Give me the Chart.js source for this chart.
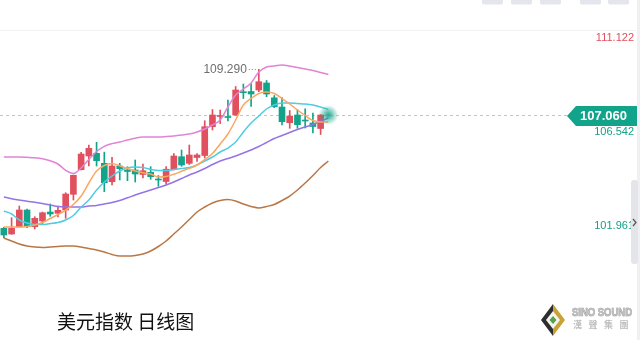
<!DOCTYPE html>
<html>
<head>
<meta charset="utf-8">
<script src="https://cdn.jsdelivr.net/npm/chart.js@4.4.1/dist/chart.umd.min.js"></script>
<style>
  html, body { margin: 0; padding: 0; background: #ffffff; overflow: hidden; }
  #wrap { position: relative; width: 640px; height: 340px; }
</style>
</head>
<body>
<div id="wrap"><canvas id="chart" width="640" height="340"></canvas></div>
<script>
// ---- daily candles (USD index) ----
const openPrices = [101.533, 101.255, 101.611, 102.426, 101.611, 101.889, 102.328, 102.265, 102.426, 103.192,
  104.392, 105.060, 105.192, 104.704, 103.806, 104.572, 104.377, 104.377, 104.158, 104.265,
  103.923, 103.816, 104.401, 105.026, 104.704, 104.987, 105.084, 106.489, 106.987, 106.987,
  107.060, 108.182, 108.206, 108.280, 108.621, 107.899, 107.450, 106.684, 107.060, 106.816,
  106.670, 106.401];
const highPrices = [101.582, 102.050, 102.621, 102.475, 102.099, 102.328, 102.719, 102.621, 103.270, 104.133,
  105.241, 105.597, 105.728, 105.250, 105.000, 104.704, 104.538, 104.865, 104.670, 104.538,
  104.109, 104.548, 105.182, 105.353, 105.597, 105.182, 106.782, 107.328, 107.304, 107.792,
  108.450, 108.572, 108.597, 109.290, 108.743, 108.011, 107.914, 107.280, 107.319, 107.362,
  107.158, 107.080];
const lowPrices = [101.075, 101.240, 101.590, 101.562, 101.499, 101.728, 102.119, 102.084, 102.021, 102.914,
  104.377, 104.572, 104.572, 103.319, 103.645, 103.889, 103.855, 103.792, 103.987, 103.923,
  103.582, 103.684, 104.377, 104.558, 104.645, 104.792, 104.962, 106.328, 106.645, 106.767,
  107.040, 107.865, 107.475, 108.197, 107.953, 107.416, 106.572, 106.411, 106.411, 106.426,
  106.182, 106.109];
const closePrices = [101.206, 101.533, 102.426, 101.611, 102.021, 102.294, 102.231, 102.411, 103.206, 104.119,
  105.158, 105.436, 104.831, 103.758, 104.572, 104.440, 104.304, 104.182, 104.343, 104.050,
  103.889, 104.416, 105.060, 104.621, 105.109, 105.109, 106.489, 107.060, 107.036, 106.938,
  108.280, 108.148, 108.084, 108.684, 108.084, 107.465, 106.733, 107.011, 106.587, 106.767,
  106.499, 107.060];

// ---- moving averages and Bollinger bands ----
const ma5 = [101.597, 101.597, 101.597, 101.626, 101.694, 101.816, 102.011, 102.207, 102.426, 102.694,
  103.109, 103.743, 104.329, 104.597, 104.699, 104.577, 104.450, 104.329, 104.246, 104.182,
  104.036, 104.060, 104.172, 104.314, 104.455, 104.621, 104.880, 105.182, 105.646, 106.133,
  106.816, 107.548, 107.865, 108.109, 108.182, 108.109, 107.865, 107.597, 107.304, 107.036,
  106.792, 106.719, 106.719];
const ma10 = [102.377, 102.231, 101.938, 101.792, 101.719, 101.719, 101.768, 101.816, 101.938, 102.158,
  102.572, 102.914, 103.402, 103.792, 104.085, 104.329, 104.475, 104.524, 104.499, 104.402,
  104.353, 104.353, 104.402, 104.450, 104.499, 104.621, 104.816, 105.011, 105.255, 105.450,
  105.743, 106.231, 106.670, 107.011, 107.353, 107.548, 107.646, 107.646, 107.621, 107.597,
  107.548, 107.450, 107.329];
const ma20 = [103.060, 102.977, 102.914, 102.855, 102.807, 102.748, 102.670, 102.592, 102.572, 102.572,
  102.572, 102.621, 102.646, 102.719, 102.792, 102.890, 103.021, 103.158, 103.280, 103.402,
  103.524, 103.646, 103.792, 103.963, 104.133, 104.280, 104.450, 104.646, 104.816, 104.938,
  105.060, 105.207, 105.353, 105.524, 105.719, 105.914, 106.060, 106.207, 106.353, 106.475,
  106.597, 106.743, 106.914];
const bollUpper = [105.011, 105.011, 105.011, 104.997, 104.977, 104.929, 104.831, 104.670, 104.362, 104.207,
  104.475, 104.889, 105.280, 105.533, 105.665, 105.743, 105.841, 105.929, 105.987, 105.987,
  105.987, 106.007, 106.036, 106.085, 106.133, 106.231, 106.377, 106.572, 106.816, 107.450,
  108.036, 108.329, 108.621, 109.157, 109.402, 109.450, 109.499, 109.450, 109.377, 109.304,
  109.231, 109.133, 109.036];
const bollLower = [101.060, 100.914, 100.768, 100.670, 100.621, 100.597, 100.621, 100.646, 100.670, 100.670,
  100.621, 100.548, 100.475, 100.377, 100.255, 100.182, 100.182, 100.207, 100.280, 100.426,
  100.646, 100.914, 101.255, 101.597, 101.963, 102.329, 102.572, 102.768, 102.890, 102.938,
  102.865, 102.719, 102.597, 102.524, 102.597, 102.694, 102.890, 103.109, 103.402, 103.743,
  104.109, 104.499, 104.816];

// ---- price marks on the right ----
const lastPrice = 107.060;
const peakIndex = 33;
const peakText = '109.290';
const sideMarks = [
  { text: '111.122', value: 111.122, color: '#e0505e' },
  { text: '106.542', value: 106.542, color: '#139f86' },
  { text: '101.961', value: 101.961, color: '#139f86' }
];
const titleText = '美元指数 日线图';

// visible window holds 73 daily slots; the rest are empty to the right
const slotCount = 73;
const slotLabels = Array.from({ length: slotCount }, (_, i) => 'D' + (i + 1));

const UP = '#e0505e';
const DOWN = '#12a48a';
const candleColors = closePrices.map((c, i) => (c >= openPrices[i] ? UP : DOWN));

function lineSet(label, data, color) {
  return {
    type: 'line', label, data,
    borderColor: color, borderWidth: 1.5,
    pointRadius: 0, fill: false,
    cubicInterpolationMode: 'monotone'
  };
}

// text squeezed horizontally to a fixed width
function fitText(ctx, text, x, y, width) {
  const w = ctx.measureText(text).width;
  ctx.save();
  ctx.translate(x, y);
  ctx.scale(Math.min(1, width / w), 1);
  ctx.strokeText(text, 0, 0);
  ctx.fillText(text, 0, 0);
  ctx.restore();
}

const overlayPlugin = {
  id: 'overlay',
  beforeDatasetsDraw(chart) {
    const ctx = chart.ctx;
    const y = chart.scales.y.getPixelForValue(lastPrice);
    ctx.save();
    // thin separator under the toolbar
    ctx.strokeStyle = '#f2f2f4';
    ctx.lineWidth = 1;
    ctx.beginPath(); ctx.moveTo(0, 30.5); ctx.lineTo(636, 30.5); ctx.stroke();
    // last price dashed line
    ctx.strokeStyle = '#9fd6cc';
    ctx.setLineDash([3, 3]);
    ctx.beginPath(); ctx.moveTo(0, Math.round(y) + 0.5); ctx.lineTo(568, Math.round(y) + 0.5); ctx.stroke();
    ctx.restore();
  },
  afterDraw(chart) {
    const ctx = chart.ctx;
    const xs = chart.scales.x, ys = chart.scales.y;
    ctx.save();

    // glowing marker at the end of the lines
    const gx = xs.getPixelForValue(ma5.length - 1);
    const gy = ys.getPixelForValue(lastPrice);
    const g = ctx.createRadialGradient(gx, gy, 0, gx, gy, 10);
    g.addColorStop(0, 'rgba(18,164,138,0.95)');
    g.addColorStop(0.35, 'rgba(18,164,138,0.6)');
    g.addColorStop(1, 'rgba(18,164,138,0)');
    ctx.fillStyle = g;
    ctx.beginPath(); ctx.arc(gx, gy, 10, 0, Math.PI * 2); ctx.fill();

    // high marker with dotted leader
    const px = xs.getPixelForValue(peakIndex);
    const py = ys.getPixelForValue(highPrices[peakIndex]);
    ctx.fillStyle = '#6f6f6f';
    ctx.font = '12px "Liberation Sans", Arial, sans-serif';
    ctx.textAlign = 'right';
    ctx.textBaseline = 'middle';
    ctx.fillText(peakText, px - 12, py);
    ctx.strokeStyle = '#8a8a8a';
    ctx.setLineDash([1, 2]);
    ctx.beginPath(); ctx.moveTo(px - 10, Math.round(py) + 0.5); ctx.lineTo(px - 1, Math.round(py) + 0.5); ctx.stroke();
    ctx.setLineDash([]);

    // right-hand value marks
    ctx.font = '11px "Liberation Sans", Arial, sans-serif';
    ctx.textBaseline = 'top';
    ctx.textAlign = 'right';
    sideMarks.forEach(m => {
      ctx.fillStyle = m.color;
      ctx.fillText(m.text, 634, ys.getPixelForValue(m.value) + 1);
    });

    // last price tag
    const ty = gy + 1;
    ctx.fillStyle = '#12a48a';
    ctx.beginPath();
    ctx.moveTo(567, ty);
    ctx.lineTo(576, ty - 10);
    ctx.lineTo(637, ty - 10);
    ctx.lineTo(637, ty + 10);
    ctx.lineTo(576, ty + 10);
    ctx.closePath();
    ctx.fill();
    ctx.fillStyle = '#ffffff';
    ctx.font = 'bold 13px "Liberation Sans", Arial, sans-serif';
    ctx.textAlign = 'left';
    ctx.textBaseline = 'middle';
    ctx.fillText(lastPrice.toFixed(3), 580, ty + 0.5);

    // scrollbar on the right edge
    ctx.fillStyle = '#f0f0f2';
    ctx.fillRect(637, 0, 3, 340);
    ctx.fillStyle = '#e4e5ea';
    ctx.beginPath();
    ctx.roundRect(631, 180, 7, 84, 3);
    ctx.fill();
    ctx.strokeStyle = '#555';
    ctx.lineWidth = 1.2;
    ctx.beginPath(); ctx.moveTo(633, 219); ctx.lineTo(636, 222.5); ctx.lineTo(633, 226); ctx.stroke();

    // toolbar buttons at the top
    ctx.fillStyle = '#e4e6ee';
    [[482, 21], [511, 21], [540, 21], [580, 21], [608, 21]].forEach(([x, w]) => {
      ctx.beginPath(); ctx.roundRect(x, -3, w, 7.5, 2); ctx.fill();
    });

    // chart title
    ctx.fillStyle = '#111111';
    ctx.font = '19px "Noto Sans CJK SC", sans-serif';
    ctx.textAlign = 'left';
    ctx.textBaseline = 'middle';
    ctx.fillText(titleText, 57, 322);

    // company mark
    const cx = 553, cy = 320;
    ctx.fillStyle = '#2e2e2e';
    ctx.beginPath(); ctx.moveTo(cx, cy - 16); ctx.lineTo(cx - 12, cy); ctx.lineTo(cx, cy + 16); ctx.closePath(); ctx.fill();
    ctx.fillStyle = '#c9a236';
    ctx.beginPath(); ctx.moveTo(cx, cy - 16); ctx.lineTo(cx + 12, cy); ctx.lineTo(cx, cy + 16); ctx.closePath(); ctx.fill();
    ctx.fillStyle = '#f4f4f0';
    ctx.beginPath(); ctx.moveTo(cx, cy - 9); ctx.lineTo(cx + 7, cy); ctx.lineTo(cx, cy + 9); ctx.lineTo(cx - 7, cy); ctx.closePath(); ctx.fill();
    ctx.fillStyle = '#5aa046';
    ctx.beginPath(); ctx.moveTo(cx, cy - 4); ctx.lineTo(cx + 3.5, cy); ctx.lineTo(cx, cy + 4); ctx.lineTo(cx - 3.5, cy); ctx.closePath(); ctx.fill();

    ctx.fillStyle = '#bdbdbd';
    ctx.strokeStyle = '#8c8c8c';
    ctx.lineWidth = 0.6;
    ctx.font = 'bold 11px "Liberation Sans", Arial, sans-serif';
    ctx.textAlign = 'left';
    ctx.textBaseline = 'middle';
    fitText(ctx, 'SINO SOUND', 572, 313, 60);
    ctx.font = 'bold 9px "Noto Sans CJK TC", sans-serif';
    ['漢', '聲', '集', '團'].forEach((ch, i) => {
      ctx.fillText(ch, 573 + i * 15.5, 325);
    });

    ctx.restore();
  }
};

new Chart(document.getElementById('chart'), {
  type: 'bar',
  data: {
    labels: slotLabels,
    datasets: [
      lineSet('BOLL UP', bollUpper, '#e184d6'),
      lineSet('MA5', ma5, '#fba661'),
      lineSet('MA10', ma10, '#4fcbe3'),
      lineSet('MA20', ma20, '#9474e6'),
      lineSet('BOLL DN', bollLower, '#b97746'),
      {
        label: 'body',
        data: openPrices.map((o, i) => [o, closePrices[i]]),
        backgroundColor: candleColors,
        barThickness: 6,
        minBarLength: 1,
        grouped: false,
        borderWidth: 0
      },
      {
        label: 'wick',
        data: lowPrices.map((l, i) => [l, highPrices[i]]),
        backgroundColor: candleColors,
        barThickness: 1,
        grouped: false,
        borderWidth: 0
      }
    ]
  },
  options: {
    responsive: false,
    animation: false,
    devicePixelRatio: 1,
    layout: { padding: { left: 0, right: 76, top: 0, bottom: 0 } },
    plugins: { legend: { display: false }, tooltip: { enabled: false }, title: { display: false } },
    scales: {
      x: { type: 'category', display: false, offset: true, grid: { display: false } },
      y: { display: false, min: 96.085, max: 112.670, grid: { display: false } }
    }
  },
  plugins: [overlayPlugin]
});
</script>
</body>
</html>
